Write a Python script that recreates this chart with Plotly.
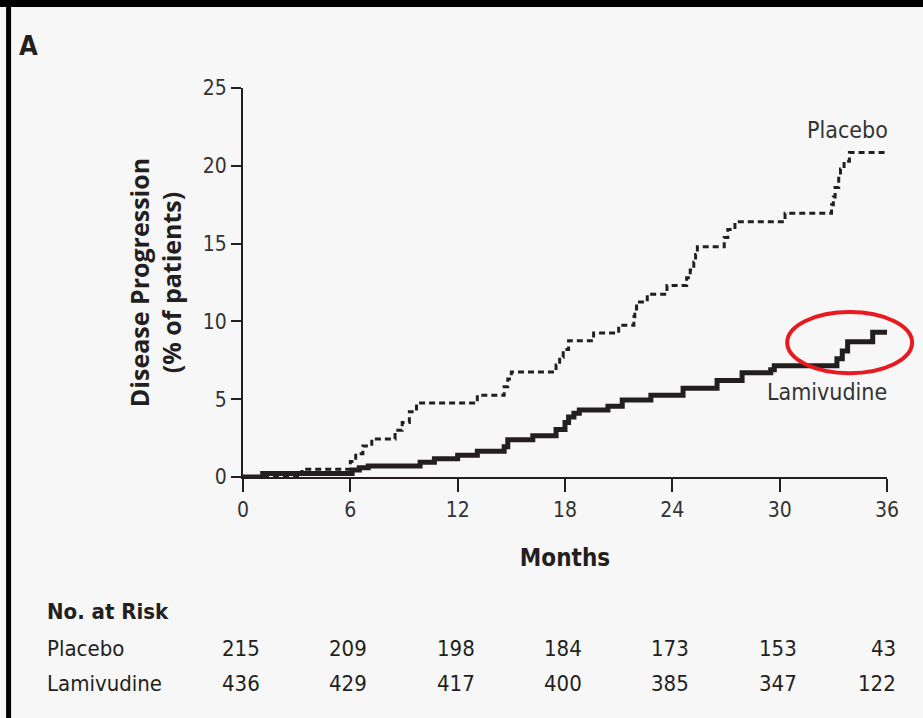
import plotly.graph_objects as go

# ---------------- data ----------------
placebo_months = [0, 3.3, 6.0, 6.3, 6.7, 7.2, 8.5, 8.9, 9.3, 9.7, 13.1, 14.6, 14.8, 15.0,
                  17.5, 17.7, 17.9, 18.2, 19.6, 21.0, 21.85, 21.9, 22.0, 22.6, 23.7,
                  24.8, 25.0, 25.2, 25.3, 25.4, 26.9, 27.1, 27.5, 30.3, 32.9, 33.0,
                  33.1, 33.3, 33.4, 33.6, 33.9, 36.0]
placebo_pct = [0, 0.5, 1.0, 1.5, 2.0, 2.45, 3.0, 3.5, 4.2, 4.75, 5.25, 5.8, 6.3, 6.75,
               7.2, 7.7, 8.2, 8.75, 9.25, 9.75, 10.3, 10.8, 11.25, 11.75, 12.3,
               12.8, 13.3, 13.8, 14.3, 14.8, 15.4, 15.9, 16.4, 16.95, 17.5, 18.0,
               18.6, 19.2, 19.8, 20.3, 20.85, 20.85]

lamivudine_months = [0, 1.1, 6.1, 6.5, 7.0, 9.9, 10.7, 12.0, 13.1, 14.6, 14.8, 16.2,
                     17.5, 18.0, 18.2, 18.5, 18.8, 20.4, 21.2, 22.8, 24.6, 26.5, 27.9,
                     29.5, 29.7, 33.2, 33.5, 33.8, 35.2, 36.0]
lamivudine_pct = [0, 0.22, 0.45, 0.6, 0.7, 0.95, 1.17, 1.4, 1.65, 1.95, 2.4, 2.65,
                  3.05, 3.5, 3.85, 4.1, 4.3, 4.55, 4.95, 5.25, 5.7, 6.2, 6.7,
                  6.9, 7.15, 7.6, 8.1, 8.7, 9.3, 9.3]

x_ticks = [0, 6, 12, 18, 24, 30, 36]
y_ticks = [0, 5, 10, 15, 20, 25]

risk_groups = ["Placebo", "Lamivudine"]
risk_placebo = [215, 209, 198, 184, 173, 153, 43]
risk_lamivudine = [436, 429, 417, 400, 385, 347, 122]

# ---------------- style ----------------
INK = "#231f20"
BG = "#f7f7f7"
NARROW = "DejaVu Sans Condensed, Liberation Sans Narrow, sans-serif"
X_MAX = 36.0

fig = go.Figure()

fig.add_trace(go.Scatter(
    x=placebo_months, y=placebo_pct, mode="lines", line_shape="hv",
    line=dict(color=INK, width=3, dash="6px,4px"), name="Placebo",
    showlegend=False, hoverinfo="skip"))

fig.add_trace(go.Scatter(
    x=lamivudine_months, y=lamivudine_pct, mode="lines", line_shape="hv",
    line=dict(color=INK, width=5), name="Lamivudine",
    showlegend=False, hoverinfo="skip"))

fig.update_layout(
    width=923, height=718,
    margin=dict(l=243, r=36, t=88, b=241),
    paper_bgcolor=BG, plot_bgcolor=BG,
    font=dict(family=NARROW, color=INK),
    xaxis=dict(
        range=[0, X_MAX], tickvals=x_ticks, ticktext=[str(v) for v in x_ticks],
        showgrid=False, zeroline=False, showline=True, linecolor=INK, linewidth=2,
        ticks="outside", ticklen=13, tickwidth=2, tickcolor=INK,
        tickfont=dict(family=NARROW, size=21, color="#333333"),
        title=dict(text="<b>Months</b>", font=dict(family=NARROW, size=24, color=INK),
                   standoff=28),
        fixedrange=True,
    ),
    yaxis=dict(
        range=[0, 25], tickvals=y_ticks, ticktext=[str(v) for v in y_ticks],
        showgrid=False, zeroline=False, showline=True, linecolor=INK, linewidth=2,
        ticks="outside", ticklen=10, tickwidth=2, tickcolor=INK,
        tickfont=dict(family=NARROW, size=21, color="#333333"),
        title=dict(text="<b>Disease Progression<br>(% of patients)</b>",
                   font=dict(family="Open Sans, sans-serif", size=25, color=INK),
                   standoff=14),
        fixedrange=True,
    ),
)

# curve labels
fig.add_annotation(x=1.005, y=0.892, xref="paper", yref="paper", text="Placebo",
                   showarrow=False, xanchor="right", yanchor="middle",
                   font=dict(family=NARROW, size=23, color="#333333"))
fig.add_annotation(x=1.003, y=0.2185, xref="paper", yref="paper", text="Lamivudine",
                   showarrow=False, xanchor="right", yanchor="middle",
                   font=dict(family=NARROW, size=23, color="#333333"))

# panel letter
fig.add_annotation(x=-0.351, y=1.1105, xref="paper", yref="paper", text="<b>A</b>",
                   showarrow=False, xanchor="left", yanchor="middle",
                   font=dict(family=NARROW, size=27, color=INK))

# number at risk table
fig.add_annotation(x=-0.3075, y=-0.347, xref="paper", yref="paper", text="<b>No. at Risk</b>",
                   showarrow=False, xanchor="left", yanchor="middle",
                   font=dict(family=NARROW, size=22, color=INK))
row_y = [-0.440, -0.530]
for name, vals, ry in zip(risk_groups, [risk_placebo, risk_lamivudine], row_y):
    fig.add_annotation(x=-0.3075, y=ry, xref="paper", yref="paper", text=name,
                       showarrow=False, xanchor="left", yanchor="middle",
                       font=dict(family=NARROW, size=22, color=INK))
    for i, (m, v) in enumerate(zip(x_ticks, vals)):
        last = i == len(x_ticks) - 1
        px = 1.017 if last else (m - 0.12) / X_MAX
        fig.add_annotation(x=px, y=ry, xref="paper", yref="paper",
                           text=str(v), showarrow=False,
                           xanchor="right" if last else "center", yanchor="middle",
                           font=dict(family=NARROW, size=22, color=INK))

# highlight ellipse
fig.add_shape(type="circle", xref="paper", yref="paper",
              x0=0.845, x1=1.039, y0=0.267, y1=0.424,
              line=dict(color="#e8191f", width=4), layer="above")

# frame edges (top and left)
fig.add_shape(type="line", xref="paper", yref="paper",
              x0=-0.38, x1=1.06, y0=1.217, y1=1.217,
              line=dict(color="#000000", width=7))
fig.add_shape(type="line", xref="paper", yref="paper",
              x0=-0.364, x1=-0.364, y0=1.23, y1=-0.63,
              line=dict(color="#000000", width=5))

fig.write_html("out.html",
               config={"displayModeBar": False},
               post_script="document.body.style.margin='0px';document.body.style.overflow='hidden';")
